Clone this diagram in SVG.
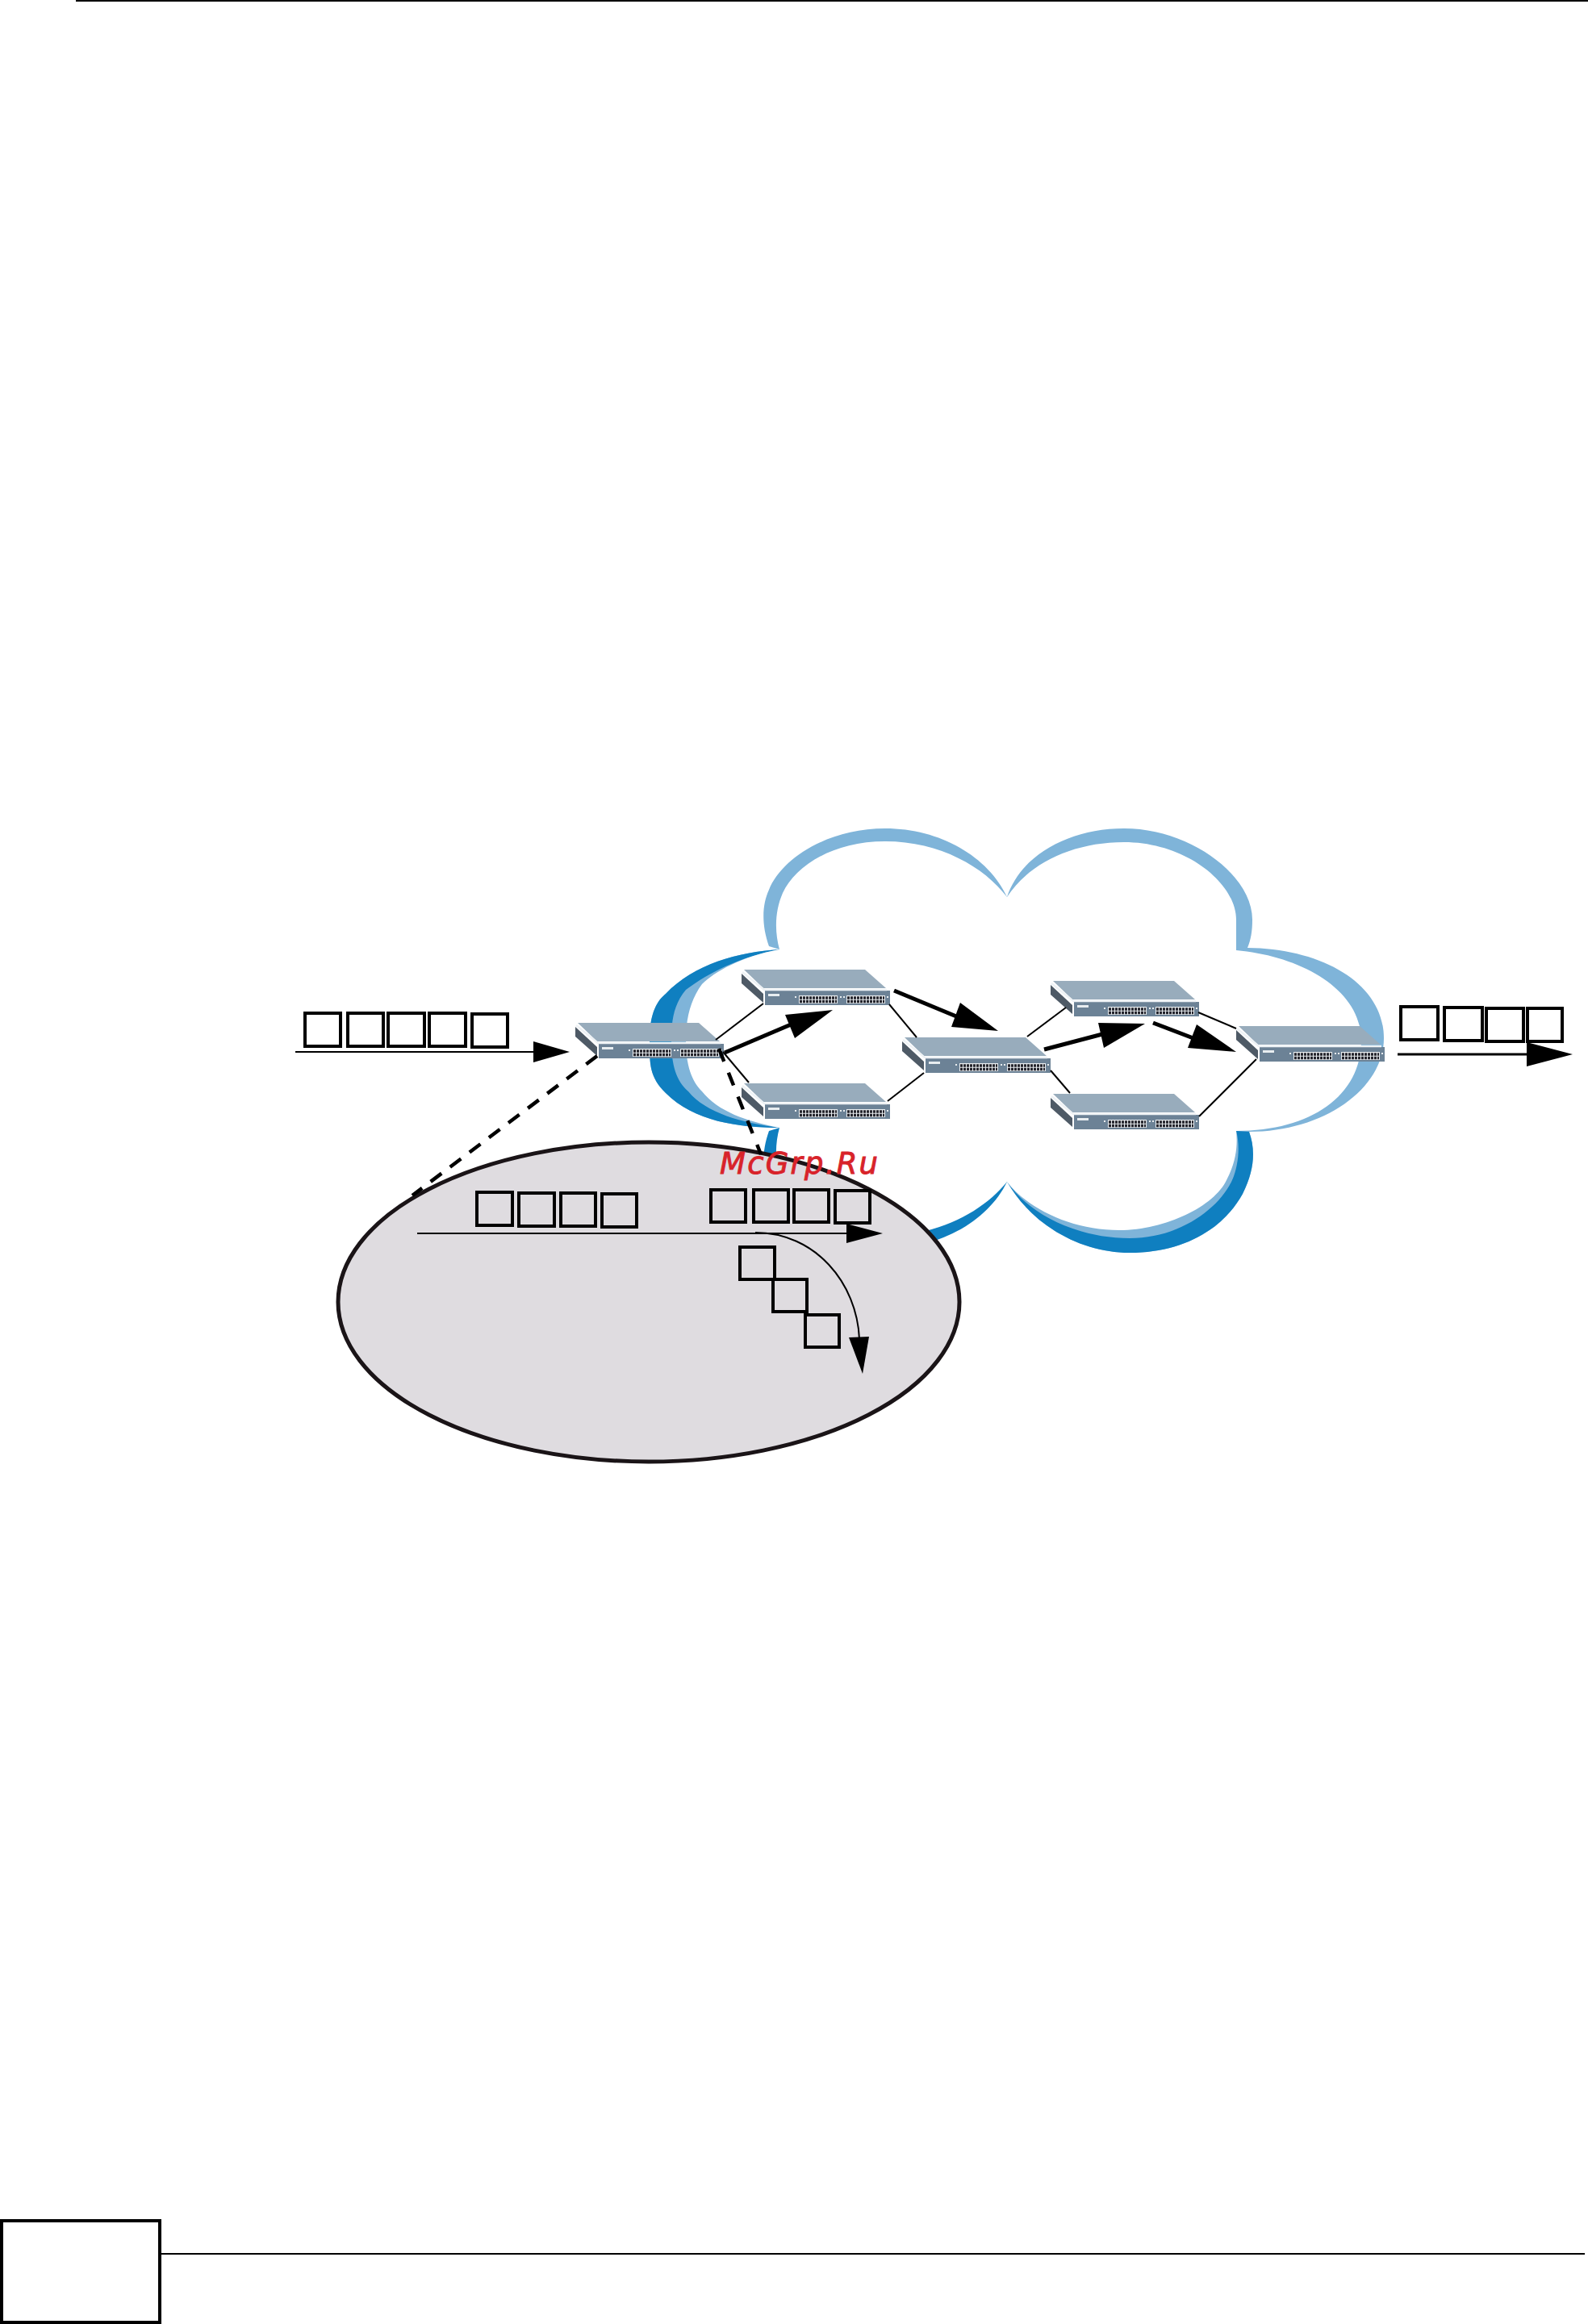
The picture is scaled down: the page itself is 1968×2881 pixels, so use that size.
<svg xmlns="http://www.w3.org/2000/svg" width="1968" height="2881" viewBox="0 0 1968 2881">
<style>
.box{fill:none;stroke:#000;stroke-width:4}
.thin{fill:none;stroke:#000;stroke-width:2}
.thick{fill:none;stroke:#000;stroke-width:5}
.dash{fill:none;stroke:#000;stroke-width:4.5;stroke-dasharray:17 15}
.dash2{stroke-dasharray:17 13.2}
.head{fill:#000}
.port{fill:none;stroke:#23232b;stroke-width:3.6;stroke-dasharray:3 1}
.light{fill:#7fb4d9}
.dark{fill:#0f7fc0}
.wm{font-family:"DejaVu Sans",sans-serif;font-style:italic;font-size:37px;fill:#d8232a;stroke:#d8232a;stroke-width:.9}
</style>
<defs>
<g id="sw">
<polygon points="3,0 153,0 179,23 27,23" fill="#98acbc"/>
<polygon points="0,5 27,30 27,41 0,17" fill="#4e5a66"/>
<polygon points="29,26 184,26 184,44 29,44" fill="#6c8296"/>
<polyline points="1,3 28,25 180,25" fill="none" stroke="#eef2f5" stroke-width="2.5"/>
<rect x="33" y="30" width="14" height="3" fill="#e8edf0"/>
<rect x="71" y="32" width="48" height="10" fill="#e8ecef"/>
<rect x="130" y="32" width="48" height="10" fill="#e8ecef"/>
<line x1="72" y1="35" x2="118" y2="35" class="port"/>
<line x1="72" y1="39.5" x2="118" y2="39.5" class="port"/>
<line x1="131" y1="35" x2="177" y2="35" class="port"/>
<line x1="131" y1="39.5" x2="177" y2="39.5" class="port"/>
<rect x="66" y="33" width="2" height="2" fill="#e8ecef"/>
<rect x="122" y="33" width="2" height="2" fill="#e8ecef"/>
<rect x="126" y="33" width="2" height="2" fill="#e8ecef"/>
<rect x="180" y="33" width="2" height="2" fill="#e8ecef"/>
</g>
</defs>
<rect width="1968" height="2881" fill="#fff"/>
<g id="page-frame">
<rect x="94" y="0" width="1874" height="2" fill="#000"/>
<rect x="2" y="2753" width="196" height="126" fill="#fff" stroke="#000" stroke-width="4"/>
<rect x="200" y="2793" width="1764" height="2" fill="#000"/>
</g>
<g id="cloud">
<path class="light" d="M966,1177 L953,1173 C943,1145 945,1120 953,1103 C968,1065 1025,1027 1097,1027 C1165,1027 1225,1062 1248,1112 C1265,1060 1325,1027 1393,1027 C1475,1027 1552,1085 1552,1140 C1552,1155 1550,1165 1546,1175 C1640,1176 1715,1220 1715,1287 C1715,1350 1640,1403 1548,1403 L1248,1465 L966,1398 C915,1398 860,1390 825,1355 C805,1335 805,1320 805,1290 C805,1255 815,1240 825,1232 C860,1195 915,1180 966,1177 Z"/>
<path class="light" d="M1532,1402 L1548,1403 C1556,1425 1555,1450 1540,1480 C1515,1525 1465,1553 1400,1553 C1340,1553 1280,1520 1248,1465 Z"/>
<path class="dark" d="M966,1177 C915,1180 860,1195 825,1232 C815,1240 805,1255 805,1290 C805,1320 805,1335 825,1355 C860,1390 915,1398 966,1398 C920,1392 875,1380 853,1353 C838,1340 832,1320 832,1290 C832,1265 835,1245 850,1227 C880,1205 915,1187 966,1177 Z"/>
<path class="dark" d="M966,1398 L953,1402 C943,1430 945,1455 953,1472 C968,1510 1025,1548 1097,1548 C1165,1548 1225,1513 1248,1465 Z"/>
<path class="dark" d="M1532,1402 L1548,1403 C1556,1425 1555,1450 1540,1480 C1515,1525 1465,1553 1400,1553 C1340,1553 1280,1520 1248,1465 C1275,1505 1335,1535 1400,1535 C1460,1535 1510,1500 1527,1463 C1535,1445 1537,1420 1532,1402 Z"/>
<path fill="#fff" d="M966,1177 C960,1155 960,1130 970,1107 C985,1075 1030,1043 1097,1043 C1165,1043 1220,1075 1248,1112 C1275,1070 1330,1044 1393,1044 C1470,1044 1532,1095 1532,1140 L1532,1178 C1610,1185 1687,1225 1687,1290 C1687,1358 1625,1402 1532,1402 C1534,1420 1532,1440 1520,1463 C1505,1495 1445,1525 1387,1525 C1330,1525 1275,1500 1248,1465 C1220,1500 1165,1532 1097,1532 C1030,1532 985,1500 970,1468 C960,1445 960,1420 966,1398 C925,1390 890,1378 870,1353 C857,1340 850,1320 850,1290 C850,1265 855,1240 870,1220 C885,1205 920,1185 966,1177 Z"/>
</g>
<g id="callout">
<ellipse cx="804" cy="1614" rx="385" ry="198" fill="#dfdce0" stroke="#1a1417" stroke-width="5"/>
</g>
<g id="switch-1"><use href="#sw" x="713" y="1268"/></g>
<g id="switch-2"><use href="#sw" x="919" y="1202"/></g>
<g id="switch-3"><use href="#sw" x="919" y="1343"/></g>
<g id="switch-4"><use href="#sw" x="1118" y="1286"/></g>
<g id="switch-5"><use href="#sw" x="1302" y="1216"/></g>
<g id="switch-6"><use href="#sw" x="1302" y="1356"/></g>
<g id="switch-7"><use href="#sw" x="1532" y="1272"/></g>
<g id="connectors">
<line class="thin" x1="887" y1="1289" x2="946" y2="1244"/>
<line class="thin" x1="896" y1="1304" x2="928" y2="1342"/>
<line class="thin" x1="1102" y1="1245" x2="1136" y2="1286"/>
<line class="thin" x1="1100" y1="1365" x2="1145" y2="1330"/>
<line class="thin" x1="1273" y1="1285" x2="1321" y2="1249"/>
<line class="thin" x1="1302" y1="1327" x2="1326" y2="1355"/>
<line class="thin" x1="1485" y1="1255" x2="1532" y2="1275"/>
<line class="thin" x1="1486" y1="1384" x2="1557" y2="1313"/>
<line class="dash dash2" x1="740" y1="1309" x2="511" y2="1482"/>
<line class="dash" x1="891" y1="1300" x2="943" y2="1431"/>
<line class="thick" x1="898" y1="1305" x2="985" y2="1268"/>
<polygon class="head" points="1032,1252 973,1258 985,1287"/>
<line class="thick" x1="1108" y1="1228" x2="1190" y2="1262"/>
<polygon class="head" points="1237,1278 1190,1243 1179,1273"/>
<line class="thick" x1="1294" y1="1301" x2="1370" y2="1281"/>
<polygon class="head" points="1419,1269 1361,1268 1368,1299"/>
<line class="thick" x1="1429" y1="1268" x2="1484" y2="1289"/>
<polygon class="head" points="1532,1304 1483,1270 1472,1299"/>
<line class="thin" x1="366" y1="1304" x2="665" y2="1304"/>
<polygon class="head" points="706,1304 661,1291 661,1317"/>
<line x1="1732" y1="1307" x2="1895" y2="1307" stroke="#000" stroke-width="3"/>
<polygon class="head" points="1949,1307 1892,1292 1892,1322"/>
<line class="thin" x1="517" y1="1529" x2="1052" y2="1529"/>
<polygon class="head" points="1094,1529 1049,1517 1049,1541"/>
<path class="thin" d="M936,1528 C1010,1528 1062,1590 1065,1660"/>
<polygon class="head" points="1069,1703 1052,1658 1077,1657"/>
</g>
<g id="packets">
<rect class="box" x="378" y="1256" width="44" height="41"/><rect class="box" x="431" y="1256" width="44" height="41"/><rect class="box" x="481" y="1256" width="45" height="41"/><rect class="box" x="532" y="1256" width="45" height="41"/><rect class="box" x="585" y="1257" width="44" height="41"/>
<rect class="box" x="1736" y="1248" width="46" height="41"/><rect class="box" x="1790" y="1249" width="47" height="41"/><rect class="box" x="1842" y="1250" width="46" height="41"/><rect class="box" x="1893" y="1250" width="43" height="41"/>
<rect class="box" x="591" y="1478" width="44" height="41"/><rect class="box" x="643" y="1479" width="44" height="41"/><rect class="box" x="695" y="1479" width="43" height="41"/><rect class="box" x="746" y="1480" width="43" height="41"/>
<rect class="box" x="881" y="1475" width="43" height="40"/><rect class="box" x="934" y="1475" width="43" height="40"/><rect class="box" x="984" y="1475" width="43" height="40"/><rect class="box" x="1035" y="1476" width="43" height="40"/>
<rect class="box" x="917" y="1546" width="43" height="40"/><rect class="box" x="958" y="1586" width="42" height="40"/><rect class="box" x="998" y="1630" width="42" height="40"/>
</g>
<text class="wm" x="892" y="1455" textLength="196">McGrp.Ru</text>
</svg>
